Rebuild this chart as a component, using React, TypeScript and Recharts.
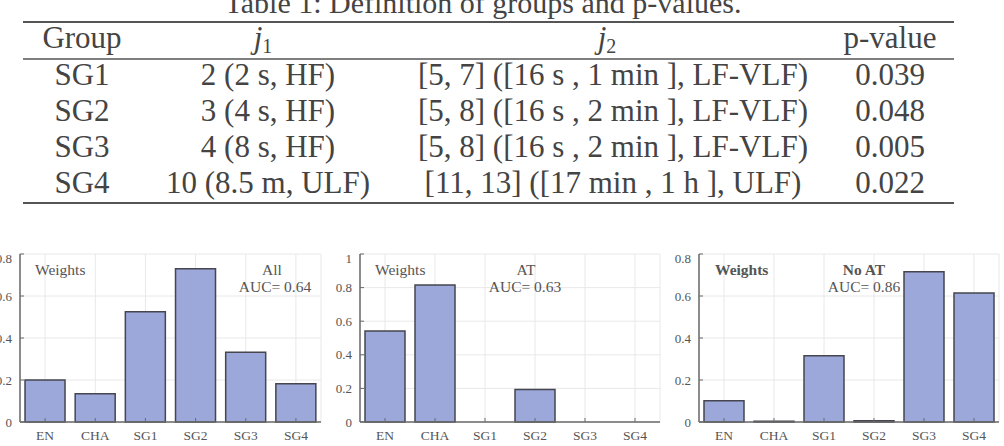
import React from "react";
import {
	BarChart,
	Bar,
	XAxis,
	YAxis,
	CartesianGrid,
} from "recharts";

// categories shared by the three panels
const categories = ["EN", "CHA", "SG1", "SG2", "SG3", "SG4"];

// weights
const weightsAll = [0.2, 0.135, 0.525, 0.73, 0.332, 0.182];
const weightsAT = [0.541, 0.816, 0, 0.193, 0, 0];
const weightsNoAT = [0.101, 0.004, 0.315, 0.006, 0.715, 0.614];

const ticksTo08 = [0, 0.2, 0.4, 0.6, 0.8];
const ticksTo1 = [0, 0.2, 0.4, 0.6, 0.8, 1];

// table content
const tableTitle = "Table 1: Definition of groups and p-values.";
const groupNames = ["SG1", "SG2", "SG3", "SG4"];
const j1Labels = ["2 (2 s, HF)", "3 (4 s, HF)", "4 (8 s, HF)", "10 (8.5 m, ULF)"];
const j2Labels = [
	"[5, 7] ([16 s , 1 min ], LF-VLF)",
	"[5, 8] ([16 s , 2 min ], LF-VLF)",
	"[5, 8] ([16 s , 2 min ], LF-VLF)",
	"[11, 13] ([17 min , 1 h ], ULF)",
];
const pValues = ["0.039", "0.048", "0.005", "0.022"];

const FONT = "Liberation Serif, DejaVu Serif, serif";
const TEXT = "#444";
const BAR_FILL = "#9ca7da";
const BAR_STROKE = "#45464f";
const AXIS = "#6a6a6a";

interface PanelProps {
	values: number[];
	ticks: number[];
	left: number;
	width: number;
	marginLeft: number;
	marginRight: number;
}

const Panel: React.FC<PanelProps> = ({ values, ticks, left, width, marginLeft, marginRight }) => {
	const data = categories.map((name, i) => ({ name, w: values[i] }));
	const top = ticks[ticks.length - 1];
	const line = { stroke: AXIS, strokeWidth: 1.5 };
	return (
		<div style={{ position: "absolute", left, top: 250 }}>
			<BarChart
				width={width}
				height={196}
				data={data}
				barCategoryGap="10%"
				margin={{ top: 4, right: marginRight, left: marginLeft, bottom: 0 }}
			>
				<CartesianGrid stroke="#e8e8e8" />
				<XAxis
					dataKey="name"
					height={24}
					tickSize={-4}
					tickMargin={12}
					tickLine={{ stroke: AXIS }}
					axisLine={line}
					tick={{ fill: "#555", fontSize: 13.5, fontFamily: FONT }}
				/>
				<XAxis
					xAxisId="top"
					orientation="top"
					dataKey="name"
					height={0}
					tick={false}
					tickSize={-4}
					tickLine={{ stroke: AXIS }}
					axisLine={line}
				/>
				<YAxis
					domain={[0, top]}
					ticks={ticks}
					width={20}
					tickSize={-4}
					tickMargin={12}
					tickLine={{ stroke: AXIS }}
					axisLine={line}
					tick={{ fill: "#555", fontSize: 13, fontFamily: FONT }}
				/>
				<YAxis
					yAxisId="right"
					orientation="right"
					domain={[0, top]}
					ticks={ticks}
					width={0}
					tick={false}
					tickSize={-4}
					tickLine={{ stroke: AXIS }}
					axisLine={line}
				/>
				<Bar
					dataKey="w"
					fill={BAR_FILL}
					stroke={BAR_STROKE}
					strokeWidth={1.5}
					isAnimationActive={false}
				/>
			</BarChart>
		</div>
	);
};

const rowBaselines = [85, 121, 157, 193];

const T: React.FC<React.SVGProps<SVGTextElement>> = (props) => (
	<text style={{ fontFamily: FONT }} {...props} />
);

export default function App() {
	return (
		<div
			style={{
				position: "absolute",
				left: 0,
				top: 0,
				width: 1004,
				height: 446,
				background: "#fff",
				overflow: "hidden",
			}}
		>
			<Panel values={weightsAll} ticks={ticksTo08} left={0} width={325} marginLeft={0} marginRight={4} />
			<Panel values={weightsAT} ticks={ticksTo1} left={330} width={335} marginLeft={10} marginRight={5} />
			<Panel values={weightsNoAT} ticks={ticksTo08} left={670} width={334} marginLeft={9} marginRight={5} />

			<svg
				width={1004}
				height={446}
				style={{ position: "absolute", left: 0, top: 0, pointerEvents: "none", fontFamily: FONT }}
			>
				{/* table */}
				<T x={483} y={13} textAnchor="middle" fontSize={30} fill={TEXT}>
					{tableTitle}
				</T>
				<line x1={23} x2={954} y1={22} y2={22} stroke="#555" strokeWidth={2} />
				<line x1={23} x2={954} y1={59} y2={59} stroke="#555" strokeWidth={1.3} />
				<line x1={23} x2={954} y1={203} y2={203} stroke="#555" strokeWidth={2} />
				<g fontSize={31} fill={TEXT}>
					<T x={82} y={48} textAnchor="middle">Group</T>
					<T x={263} y={48} textAnchor="middle">
						<tspan fontStyle="italic">j</tspan>
						<tspan fontSize={20} dy={5}>1</tspan>
					</T>
					<T x={607} y={48} textAnchor="middle">
						<tspan fontStyle="italic">j</tspan>
						<tspan fontSize={20} dy={5}>2</tspan>
					</T>
					<T x={890} y={48} textAnchor="middle">p-value</T>
					{groupNames.map((g, i) => (
						<g key={g}>
							<T x={82} y={rowBaselines[i]} textAnchor="middle">{g}</T>
							<T x={268} y={rowBaselines[i]} textAnchor="middle">{j1Labels[i]}</T>
							<T x={613} y={rowBaselines[i]} textAnchor="middle">{j2Labels[i]}</T>
							<T x={890} y={rowBaselines[i]} textAnchor="middle">{pValues[i]}</T>
						</g>
					))}
				</g>

				{/* panel annotations */}
				<g fontSize={15.5} fill="#555">
					<T x={35} y={275}>Weights</T>
					<T x={272} y={275} textAnchor="middle">All</T>
					<T x={275} y={292} textAnchor="middle">AUC= 0.64</T>

					<T x={375} y={275}>Weights</T>
					<T x={526} y={275} textAnchor="middle">AT</T>
					<T x={525} y={292} textAnchor="middle">AUC= 0.63</T>

					<T x={715} y={275} fontWeight="bold">Weights</T>
					<T x={864} y={275} textAnchor="middle" fontWeight="bold">No AT</T>
					<T x={864} y={292} textAnchor="middle">AUC= 0.86</T>
				</g>
			</svg>
		</div>
	);
}
